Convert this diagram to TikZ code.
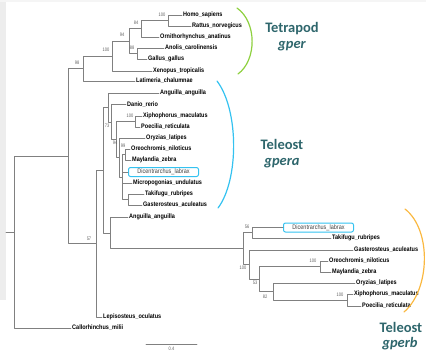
\documentclass[tikz,border=0pt]{standalone}
\usepackage{fontspec}
\setmainfont{Liberation Sans}
\newfontfamily\leaffont[FakeStretch=0.85]{Liberation Sans}
\newfontfamily\bootfont[FakeStretch=0.8]{Liberation Sans}
\newfontfamily\cladefont{Carlito}
\definecolor{branch}{RGB}{128,128,128}
\definecolor{bootgray}{RGB}{95,95,95}
\definecolor{cladeteal}{RGB}{46,102,108}
\definecolor{tetragreen}{RGB}{141,208,62}
\definecolor{gperablue}{RGB}{52,194,240}
\definecolor{gperborange}{RGB}{250,184,64}
\begin{document}
\begin{tikzpicture}[line cap=round,line join=round,x=1pt,y=-1pt,
  br/.style={draw=branch,line width=0.9pt},
  leaf/.style={anchor=west,inner sep=1pt,font=\leaffont\bfseries\fontsize{6.5}{7}\selectfont},
  boxleaf/.style={anchor=west,draw=gperablue,line width=1pt,rounded corners=2pt,fill=white,
    inner xsep=4pt,inner ysep=1.5pt,minimum width=70pt,text=black!75,
    font=\leaffont\fontsize{6.5}{7}\selectfont},
  boot/.style={inner sep=0pt,text=bootgray,font=\bootfont\fontsize{5}{5}\selectfont},
  clade/.style={anchor=base,text=cladeteal,font=\cladefont\bfseries\fontsize{14.5}{16}\selectfont},
  bracket/.style={line width=1.2pt}]
\useasboundingbox (0,0) rectangle (426,354);
% faint slide edge
\fill[black!7] (0,0) rectangle (6,300);
\fill[black!4] (0,0) rectangle (426,2);

% internal nodes
\coordinate (stub) at (6,232);
\coordinate (root) at (14,232);
\coordinate (nA) at (68,156);
\coordinate (n98) at (83,68.5);
\coordinate (n100t) at (112,56);
\coordinate (n94t) at (129,41);
\coordinate (n84) at (141,28.5);
\coordinate (nHR) at (168,20.5);
\coordinate (n88) at (137,53.5);
\coordinate (n57) at (96,243.5);
\coordinate (nD) at (103,170);
\coordinate (nG) at (108,107.5);
\coordinate (n73) at (111,122);
\coordinate (nS) at (116,139.5);
\coordinate (nXPa) at (135,121.5);
\coordinate (n94a) at (119,157.5);
\coordinate (nP) at (122,177);
\coordinate (nOMa) at (125,154.5);
\coordinate (nTG) at (128,199.5);
\coordinate (nF) at (110,233);
\coordinate (nH) at (243,248.5);
\coordinate (n56) at (252,232.5);
\coordinate (nI) at (249,264.5);
\coordinate (nJ) at (259,279);
\coordinate (nOMb) at (320,266.5);
\coordinate (nK) at (273,291.5);
\coordinate (nXPb) at (347,300);

% leaves
\node[leaf] (homo) at (182,15) {Homo\_sapiens};
\node[leaf] (rattus) at (191,26) {Rattus\_norvegicus};
\node[leaf] (ornitho) at (159,37) {Ornithorhynchus\_anatinus};
\node[leaf] (anolis) at (164,48) {Anolis\_carolinensis};
\node[leaf] (gallus) at (147,59) {Gallus\_gallus};
\node[leaf] (xenopus) at (152,71) {Xenopus\_tropicalis};
\node[leaf] (latimeria) at (135,81) {Latimeria\_chalumnae};
\node[leaf] (anguillaA) at (159,93) {Anguilla\_anguilla};
\node[leaf] (danio) at (126,104.5) {Danio\_rerio};
\node[leaf] (xiphoA) at (142,116) {Xiphophorus\_maculatus};
\node[leaf] (poeciliaA) at (140,127) {Poecilia\_reticulata};
\node[leaf] (oryziasA) at (145,138) {Oryzias\_latipes};
\node[leaf] (oreoA) at (130,149) {Oreochromis\_niloticus};
\node[leaf] (maylA) at (131,160) {Maylandia\_zebra};
\node[boxleaf] (dicenA) at (128,172) {Dicentrarchus\_labrax};
\node[leaf] (microA) at (132,183) {Micropogonias\_undulatus};
\node[leaf] (takiA) at (144,194) {Takifugu\_rubripes};
\node[leaf] (gastA) at (142,205) {Gasterosteus\_aculeatus};
\node[leaf] (anguillaB) at (128,217) {Anguilla\_anguilla};
\node[boxleaf] (dicenB) at (283,227.5) {Dicentrarchus\_labrax};
\node[leaf] (takiB) at (331,238) {Takifugu\_rubripes};
\node[leaf] (gastB) at (353,250) {Gasterosteus\_aculeatus};
\node[leaf] (oreoB) at (328,261) {Oreochromis\_niloticus};
\node[leaf] (maylB) at (331,272) {Maylandia\_zebra};
\node[leaf] (oryziasB) at (355,283) {Oryzias\_latipes};
\node[leaf] (xiphoB) at (353,294) {Xiphophorus\_maculatus};
\node[leaf] (poeciliaB) at (361,306) {Poecilia\_reticulata};
\node[leaf] (lepis) at (102,317) {Lepisosteus\_oculatus};
\node[leaf] (callo) at (71,328) {Callorhinchus\_milii};

% branches
\draw[br] (stub) -- (root);
\foreach \p/\c in {root/nA,root/callo,nA/n98,nA/n57,
    n98/n100t,n98/latimeria,n100t/n94t,n100t/xenopus,n94t/n84,n94t/n88,
    n84/nHR,n84/ornitho,nHR/homo,nHR/rattus,n88/anolis,n88/gallus,
    n57/nD,n57/lepis,nD/nG,nD/nF,nG/anguillaA,nG/n73,n73/danio,n73/nS,
    nS/nXPa,nS/n94a,nXPa/xiphoA,nXPa/poeciliaA,n94a/oryziasA,n94a/nP,
    nP/nOMa,nP/dicenA,nP/microA,nP/nTG,nOMa/oreoA,nOMa/maylA,nTG/takiA,nTG/gastA,
    nF/anguillaB,nF/nH,nH/n56,nH/nI,n56/dicenB,n56/takiB,nI/gastB,nI/nJ,
    nJ/nOMb,nJ/nK,nOMb/oreoB,nOMb/maylB,nK/oryziasB,nK/nXPb,nXPb/xiphoB,nXPb/poeciliaB}
  \draw[br] (\p) |- (\c);

% support values
\foreach \n/\x/\y/\v in {hr/162/15/100,e84/136/23/84,t94/122/35/94,e88/132/48/88,t100/106/50/100,
    e98/77/63/98,xpa/130/116/100,e73/107/126/73,a94/115/143/94,oma/123/146/99,e57/89/239/57,
    e56/247/227/56,i100/243/268/100,e53/255/283/53,e82/265/297/82,omb/313/261/100,xpb/340/295/100}
  \node[boot] (b\n) at (\x,\y) {\v};

% scale bar
\coordinate (sbl) at (146,344);
\coordinate (sbr) at (197,344);
\draw[br] (sbl) -- (sbr) node[boot,midway,below=3pt] (sblabel) {0.4};

% clade brackets
\draw[bracket,tetragreen] (237,8) .. controls (257,22) and (257,60) .. (238,74);
\draw[bracket,gperablue] (217,81) .. controls (239,110) and (239,180) .. (218,208);
\draw[bracket,gperborange] (405,209) .. controls (432,230) and (430,290) .. (404,312);

% clade names
\node[clade] (tetra) at (292,32) {Tetrapod};
\node[clade] (gper) at (292,48) {\itshape gper};
\node[clade] (teleA) at (282,149) {Teleost};
\node[clade] (gpera) at (282,165) {\itshape gpera};
\node[clade] (teleB) at (401,332) {Teleost};
\node[clade] (gperb) at (400,347) {\itshape gperb};
\end{tikzpicture}
\end{document}
